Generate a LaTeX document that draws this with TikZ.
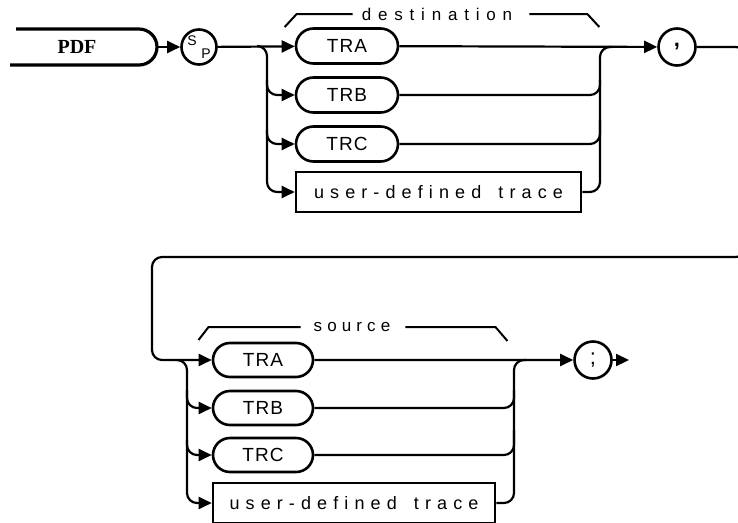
\documentclass[tikz,border=0pt]{standalone}
\usepackage{fontspec}
\setmainfont{Liberation Sans}
\newfontfamily\keyfont{Liberation Serif}
\usetikzlibrary{arrows.meta,shapes.misc}

\begin{document}
\begin{tikzpicture}[
    x=1pt, y=-1pt,
    flow/.style={-{Triangle[length=13pt,width=12pt]}, line width=2.2pt},
    line/.style={line width=2.2pt},
    trace/.style={rounded rectangle, draw, line width=2.6pt, minimum width=102pt, minimum height=35pt, inner sep=0pt, font=\fontsize{19}{19}\selectfont\addfontfeature{LetterSpace=6}},
    userbox/.style={rectangle, draw, line width=2.6pt, minimum height=40pt, inner sep=0pt, font=\fontsize{18}{18}\selectfont\addfontfeature{LetterSpace=34}},
    term/.style={circle, draw, line width=2.6pt, minimum size=37pt, inner sep=0pt, font=\fontsize{22}{22}\selectfont},
    heading/.style={inner sep=0pt, font=\fontsize{17}{17}\selectfont\addfontfeature{LetterSpace=40}},
    subhead/.style={inner sep=0pt, font=\fontsize{17}{17}\selectfont\addfontfeature{LetterSpace=30}},
    bracket/.style={line width=2pt}
]
    \useasboundingbox (0,0) rectangle (738,522);
    \clip (0,0) rectangle (738,522);

    % keyword
    \node[font=\keyfont\bfseries\fontsize{20}{20}\selectfont] (pdf) at (77,47) {PDF};
    \draw[line width=3.2pt, rounded corners=18pt] (16,29) -- (157,29) -- (157,65) -- (10,65);
    \coordinate (pdfend) at (157,47);
    \node[term, minimum size=35pt] (sp) at (199,47) {};
    \node[inner sep=0pt, font=\fontsize{14}{14}\selectfont] (sps) at (192,41) {S};
    \node[inner sep=0pt, font=\fontsize{14}{14}\selectfont] (spp) at (206,54) {P};

    % destination
    \node[heading] (dest) at (437,14) {destination};
    \draw[bracket] ([xshift=-9pt]dest.west) -- ++(-56,0) -- ++(-12,13);
    \draw[bracket] ([xshift=17pt]dest.east) -- ++(58,0) -- ++(12,13);
    \node[trace] (tra1) at (347,46) {TRA};
    \node[trace] (trb1) at (347,95) {TRB};
    \node[trace] (trc1) at (347,144) {TRC};
    \node[userbox, minimum width=285pt] (user1) at (438.5,192) {user-defined\hspace{6pt} trace};
    \node[term] (comma) at (677,47) {\textbf{,}};

    % source
    \node[subhead] (src) at (352,327) {source};
    \draw[bracket] ([xshift=-13pt]src.west) -- ++(-92,0) -- ++(-10,13);
    \draw[bracket] ([xshift=15pt]src.east) -- ++(90,0) -- ++(12,14);
    \node[trace, minimum width=100pt, minimum height=34pt] (tra2) at (263,360) {TRA};
    \node[trace, minimum width=100pt, minimum height=34pt] (trb2) at (263,408) {TRB};
    \node[trace, minimum width=100pt, minimum height=34pt] (trc2) at (263,455) {TRC};
    \node[userbox, minimum width=282pt] (user2) at (354,503) {user-defined\hspace{6pt} trace};
    \node[term] (semi) at (593,360) {;};
    \coordinate (exit) at (629,360);

    \draw[flow] (pdfend) -- (sp);
    \draw[flow] (sp) -- (tra1);
    \draw[flow, rounded corners=10pt] (257,46) -| (267,170) |- (user1.west);
    \draw[flow, rounded corners=10pt] (267,80) |- (trb1.west);
    \draw[flow, rounded corners=10pt] (267,130) |- (trc1.west);
    \draw[flow] (tra1) -- (comma);
    \draw[line, rounded corners=10pt] (trb1.east) -| (600,80);
    \draw[line, rounded corners=10pt] (trc1.east) -| (600,120);
    \draw[line, rounded corners=10pt] (user1.east) -| (600,70) |- (612,47);

    % wrap to second line
    \draw[flow, rounded corners=10pt] (comma.east) -| (746,257) -| (152,340) |- (tra2.west);

    \draw[flow, rounded corners=10pt] (177,360) -| (187,480) |- (user2.west);
    \draw[flow, rounded corners=10pt] (187,390) |- (trb2.west);
    \draw[flow, rounded corners=10pt] (187,440) |- (trc2.west);
    \draw[flow] (tra2) -- (semi);
    \draw[line, rounded corners=10pt] (trb2.east) -| (514,390);
    \draw[line, rounded corners=10pt] (trc2.east) -| (514,430);
    \draw[line, rounded corners=10pt] (user2.east) -| (514,380) |- (526,360);
    \draw[flow] (semi) -- (exit);
\end{tikzpicture}
\end{document}
